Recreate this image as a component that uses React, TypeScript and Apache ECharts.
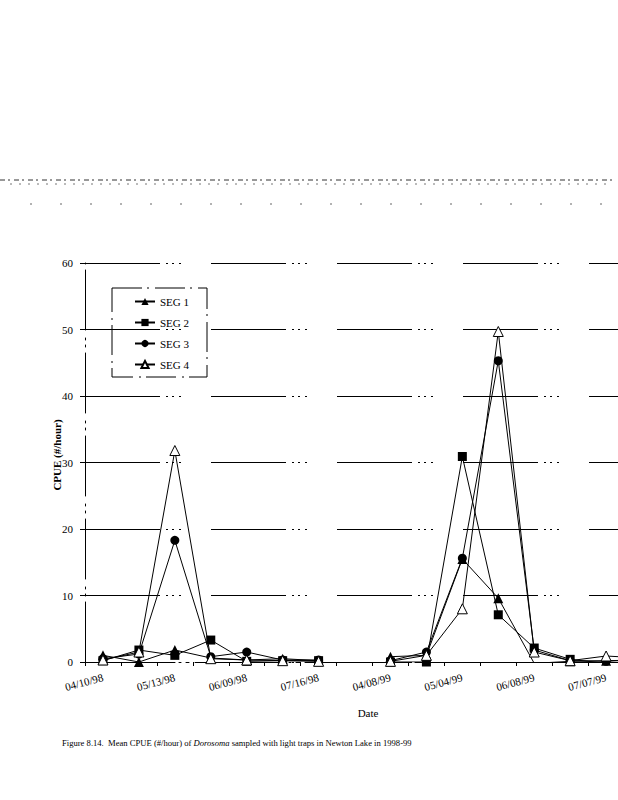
import React, { useEffect, useRef } from "react";
import * as echarts from "echarts";

const categories = ["04/10/98", "", "05/13/98", "", "06/09/98", "", "07/16/98", "", "04/08/99", "", "05/04/99", "", "06/08/99", "", "07/07/99", ""];
const seg1 = [1.0, 0.0, 1.8, 0.6, 0.3, 0.5, 0.2, null, 0.8, 1.0, 15.5, 9.6, -0.2, 0.1, 0.2, 0.3];
const seg2 = [0.2, 1.8, 1.0, 3.3, 0.1, 0.2, 0.2, null, 0.0, 0.0, 30.9, 7.1, 2.1, 0.4, -0.2, 0.2];
const seg3 = [0.5, 1.2, 18.3, 0.8, 1.5, 0.3, 0.3, null, 0.2, 1.5, 15.6, 45.3, 1.8, 0.2, 0.1, 0.4];
const seg4 = [0.3, 1.5, 31.8, 0.5, 0.3, 0.2, 0.1, null, 0.1, 1.0, 8.0, 49.7, 1.5, 0.2, 0.9, 0.6];
const seriesNames = ["SEG 1", "SEG 2", "SEG 3", "SEG 4"];
const yTicks = { min: 0, max: 60, interval: 10 };

const FONT = "'Liberation Serif', 'DejaVu Serif', serif";

export default function App() {
  const ref = useRef<HTMLDivElement>(null);
  useEffect(() => {
    if (!ref.current) return;
    const chart = echarts.init(ref.current, null, { renderer: "svg" });
    const mk = (name: string, data: (number | null)[], symbol: string, hollow: boolean) => ({
      name,
      type: "line",
      data,
      symbol,
      symbolSize: symbol === "triangle" ? 10 : 9,
      connectNulls: false,
      color: "#000",
      lineStyle: { color: "#000", width: 1 },
      itemStyle: hollow
        ? { color: "#fff", borderColor: "#000", borderWidth: 1 }
        : { color: "#000", borderColor: "#000", borderWidth: 0 },
      z: 3,
    });
    chart.setOption({
      animation: false,
      backgroundColor: "#fff",
      textStyle: { fontFamily: FONT },
      grid: { left: 85, right: 0, top: 263, bottom: 138, containLabel: false },
      legend: {
        orient: "vertical",
        left: 129,
        top: 291,
        itemWidth: 20,
        itemHeight: 9,
        itemGap: 10,
        textStyle: { fontFamily: FONT, fontSize: 11, color: "#000" },
        data: seriesNames,
      },
      xAxis: {
        type: "category",
        data: categories,
        boundaryGap: true,
        axisLine: { lineStyle: { color: "#000", width: 1, type: [90, 4, 2, 5, 3, 6] } },
        axisTick: { show: true, length: 4, inside: false, interval: 0, lineStyle: { color: "#000" } },
        axisLabel: {
          interval: 1,
          rotate: 15,
          margin: 15,
          fontFamily: FONT,
          fontSize: 11,
          color: "#000",
        },
        splitLine: { show: false },
      },
      yAxis: {
        type: "value",
        min: yTicks.min,
        max: yTicks.max,
        interval: yTicks.interval,
        axisLine: { show: true, lineStyle: { color: "#000", width: 1, type: [60, 6, 2, 5, 2, 8] } },
        axisTick: { show: true, length: 5, lineStyle: { color: "#000" } },
        axisLabel: { margin: 12, fontFamily: FONT, fontSize: 11, color: "#000" },
        splitLine: { show: true, lineStyle: { color: "#000", width: 1, type: [75, 6, 2, 4, 2, 5, 2, 30] } },
      },
      series: [
        mk(seriesNames[0], seg1, "triangle", false),
        mk(seriesNames[1], seg2, "rect", false),
        mk(seriesNames[2], seg3, "circle", false),
        mk(seriesNames[3], seg4, "triangle", true),
      ],
      graphic: [
        {
          type: "line",
          shape: { x1: 0, y1: 180, x2: 612, y2: 180 },
          style: { stroke: "#333", lineWidth: 1, lineDash: [5, 3, 2, 4] },
        },
        {
          type: "line",
          shape: { x1: 10, y1: 184, x2: 612, y2: 184 },
          style: { stroke: "#777", lineWidth: 1, lineDash: [2, 7] },
        },
        {
          type: "line",
          shape: { x1: 30, y1: 204, x2: 618, y2: 204 },
          style: { stroke: "#666", lineWidth: 1, lineDash: [2, 28] },
        },
        {
          type: "rect",
          shape: { x: 112, y: 288, width: 95, height: 89 },
          style: { fill: "none", stroke: "#000", lineWidth: 1, lineDash: [30, 5, 2, 6] },
          z: 10,
        },
        {
          type: "text",
          x: 57,
          y: 455,
          rotation: Math.PI / 2,
          style: {
            text: "CPUE (#/hour)",
            fontFamily: FONT,
            fontSize: 11,
            fontWeight: "bold",
            fill: "#000",
            align: "center",
            verticalAlign: "middle",
          },
        },
        {
          type: "text",
          x: 368,
          y: 713,
          style: {
            text: "Date",
            fontFamily: FONT,
            fontSize: 11,
            fill: "#000",
            align: "center",
            verticalAlign: "middle",
          },
        },
        {
          type: "text",
          x: 62,
          y: 743,
          style: {
            text: "{a|Figure 8.14.  Mean CPUE (#/hour) of }{i|Dorosoma}{a| sampled with light traps in Newton Lake in 1998-99}",
            fontFamily: FONT,
            fontSize: 8.6,
            fill: "#000",
            verticalAlign: "middle",
            rich: {
              a: { fontFamily: FONT, fontSize: 8.6, fill: "#000" },
              i: { fontFamily: FONT, fontSize: 8.6, fontStyle: "italic", fill: "#000" },
            },
          },
        },
      ],
    });
    return () => chart.dispose();
  }, []);
  return (
    <div style={{ position: "absolute", left: 0, top: 0, width: 618, height: 800, overflow: "hidden", background: "#fff" }}>
      <div ref={ref} style={{ width: 660, height: 800 }} />
    </div>
  );
}
